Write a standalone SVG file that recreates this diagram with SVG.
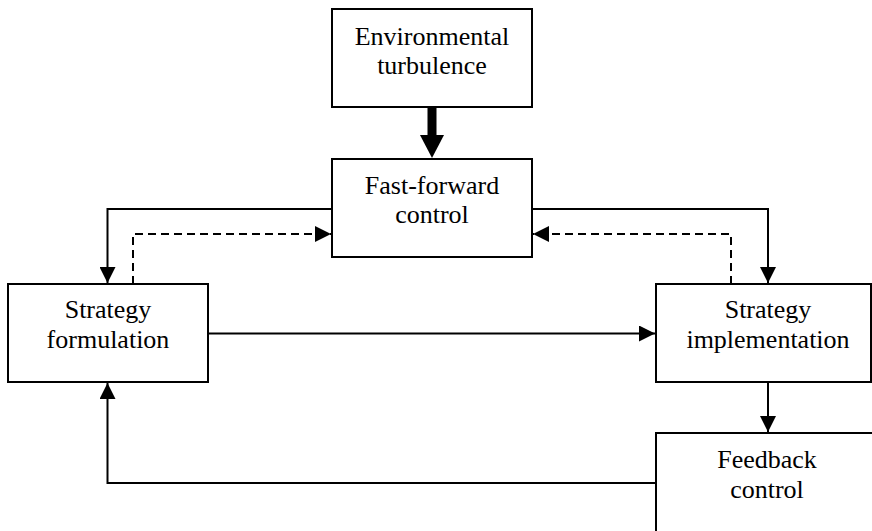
<svg xmlns="http://www.w3.org/2000/svg" width="872" height="531" viewBox="0 0 872 531">
  <style>
    .box { fill: #ffffff; stroke: #000000; stroke-width: 2; }
    .label { font-size: 26px; fill: #000000; text-anchor: middle; }
    .link { fill: none; stroke: #000000; stroke-width: 2; }
    .dash { stroke-dasharray: 8 5; }
  </style>
  <defs>
    <marker id="head" viewBox="0 0 16 16" refX="16" refY="8" markerWidth="16" markerHeight="16" markerUnits="userSpaceOnUse" orient="auto">
      <path d="M0,0 L16,8 L0,16 Z" fill="#000000"/>
    </marker>
  </defs>

  <rect width="872" height="531" fill="#ffffff"/>

  <g id="connectors">
    <!-- strong disturbance input -->
    <rect x="427.5" y="107" width="9" height="29" fill="#000000"/>
    <path d="M420,135 L444,135 L432,158 Z" fill="#000000"/>
    <!-- feed-forward to formulation -->
    <path class="link" d="M332,209 H107.5 V283" marker-end="url(#head)"/>
    <!-- formulation back to feed-forward -->
    <path class="link dash" d="M133,284 V234 H331" marker-end="url(#head)"/>
    <!-- feed-forward to implementation -->
    <path class="link" d="M532,209 H768 V283" marker-end="url(#head)"/>
    <!-- implementation back to feed-forward -->
    <path class="link dash" d="M731,284 V234 H533" marker-end="url(#head)"/>
    <!-- formulation to implementation -->
    <path class="link" d="M208,333.5 H655" marker-end="url(#head)"/>
    <!-- implementation to feedback -->
    <path class="link" d="M768,382 V432" marker-end="url(#head)"/>
    <!-- feedback loop -->
    <path class="link" d="M656,483 H107.5 V383" marker-end="url(#head)"/>
  </g>

  <g font-family="'Liberation Serif', 'Times New Roman', 'DejaVu Serif', serif">
    <g id="environmental-turbulence">
      <rect class="box" x="332" y="9" width="200" height="98"/>
      <text class="label" x="432" y="45">Environmental</text>
      <text class="label" x="432" y="74">turbulence</text>
    </g>

    <g id="fast-forward-control">
      <rect class="box" x="332" y="159" width="200" height="98"/>
      <text class="label" x="432" y="194">Fast-forward</text>
      <text class="label" x="432" y="223">control</text>
    </g>

    <g id="strategy-formulation">
      <rect class="box" x="8" y="284" width="200" height="98"/>
      <text class="label" x="108" y="318">Strategy</text>
      <text class="label" x="108" y="348">formulation</text>
    </g>

    <g id="strategy-implementation">
      <rect class="box" x="656" y="284" width="215" height="98"/>
      <text class="label" x="768" y="318">Strategy</text>
      <text class="label" x="768" y="348">implementation</text>
    </g>

    <g id="feedback-control">
      <rect class="box" x="656" y="433" width="240" height="120"/>
      <text class="label" x="767" y="468">Feedback</text>
      <text class="label" x="767" y="498">control</text>
    </g>
  </g>
</svg>
